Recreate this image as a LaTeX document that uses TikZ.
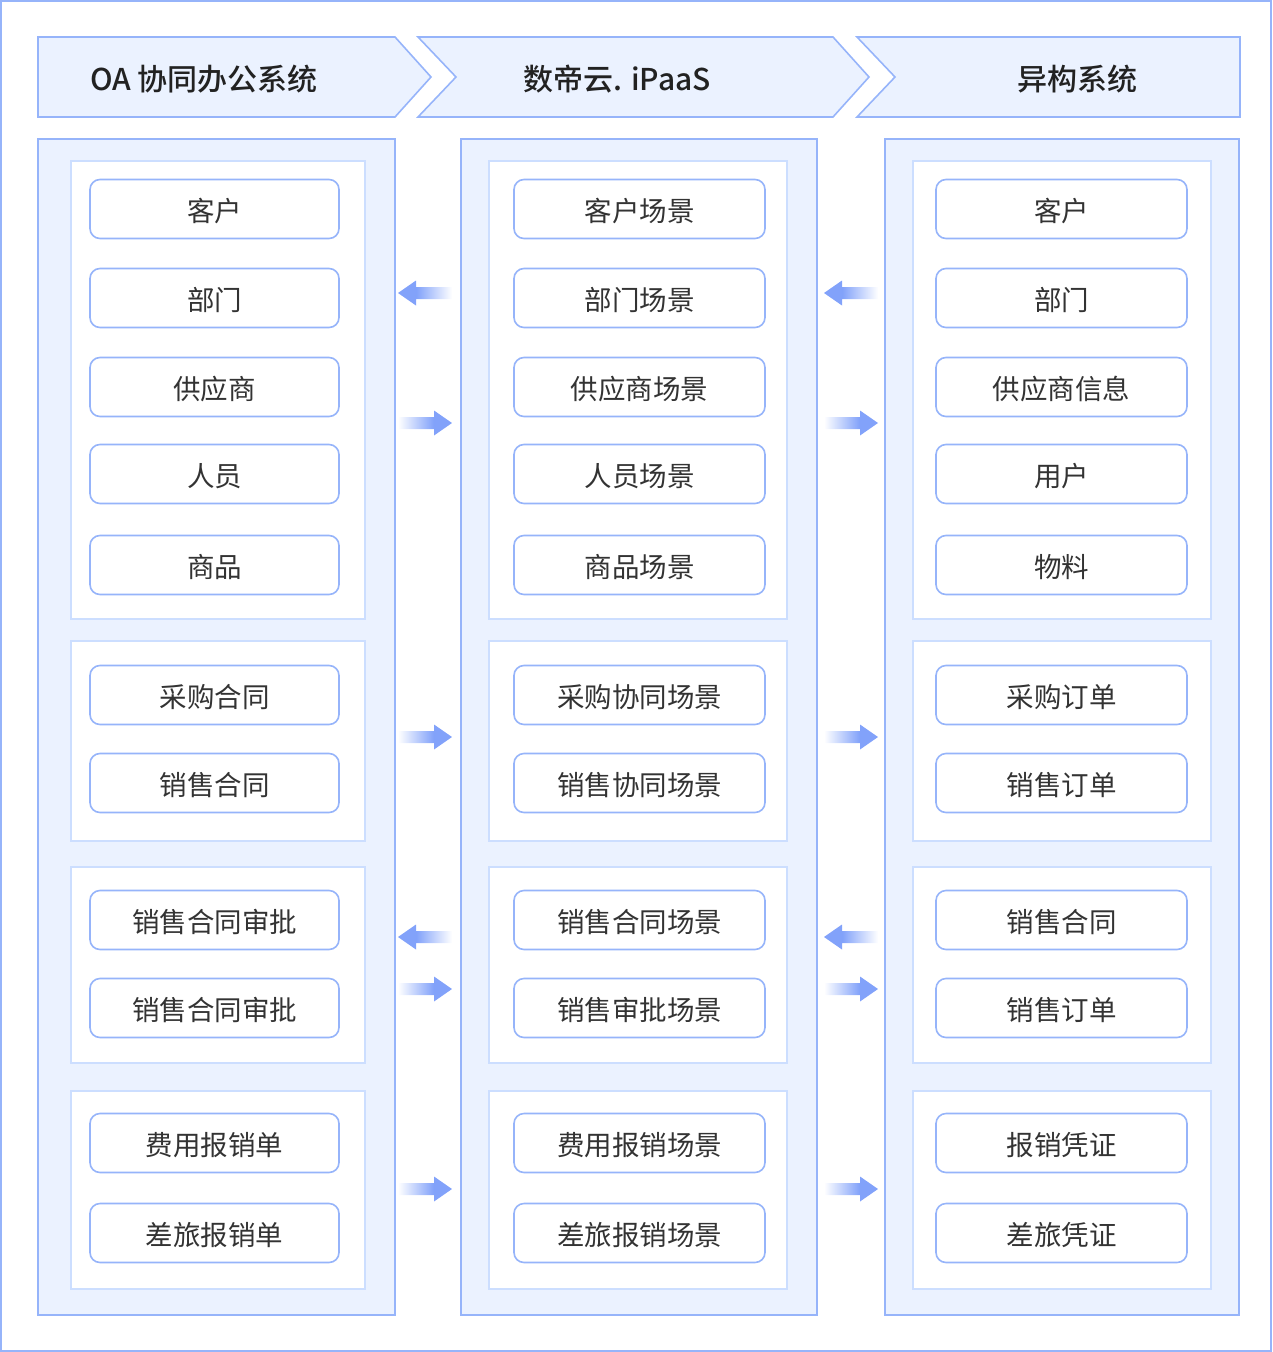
\documentclass[tikz,border=0pt]{standalone}
\usepackage{fontspec}
\setmainfont{Noto Sans CJK SC}
\newfontfamily\hdrfont{Noto Sans CJK SC Medium}
\definecolor{bc}{HTML}{96B4FA}
\definecolor{fillc}{HTML}{EBF2FF}
\definecolor{grpc}{HTML}{CCDEFF}
\definecolor{arrc}{HTML}{82A2FA}
\definecolor{txtc}{HTML}{333333}
\definecolor{hdrtxt}{HTML}{222222}
\pgfdeclarehorizontalshading{rfade}{100bp}{color(0bp)=(white); color(25bp)=(white); color(58bp)=(arrc); color(75bp)=(arrc); color(100bp)=(arrc)}
\begin{document}
\begin{tikzpicture}[x=1pt,y=-1pt,
  hdr/.style={draw=bc, fill=fillc, line width=1.6pt},
  colbox/.style={draw=bc, fill=fillc, line width=1.6pt},
  grp/.style={draw=grpc, fill=white, line width=1.6pt},
  item/.style={draw=bc, fill=white, line width=1.6pt, rounded corners=10pt, minimum width=249pt, minimum height=59pt, inner sep=0pt, text height=28pt, text depth=4pt, text=txtc, font=\fontsize{27.5}{31}\selectfont},
  hdrtext/.style={text=hdrtxt, font=\hdrfont\fontsize{30}{34}\selectfont},
  arrR/.style={shading=rfade, draw=none},
  arrL/.style={shading=rfade, shading angle=180, draw=none}
]
\useasboundingbox (0,0) rectangle (1272,1352);
\draw[draw=bc, line width=2pt] (1,1) rectangle (1271,1351);

% headers
\draw[hdr] (38,37) -- (395,37) -- (431,77) -- (395,117) -- (38,117) -- cycle;
\draw[hdr] (418,37) -- (833,37) -- (869,77) -- (833,117) -- (418,117) -- (456,77) -- cycle;
\draw[hdr] (857,37) -- (1240,37) -- (1240,117) -- (857,117) -- (895,77) -- cycle;
\node[hdrtext] (h1) at (204,79) {OA 协同办公系统};
\node[hdrtext] (h2) at (617,79) {数帝云. iPaaS};
\node[hdrtext] (h3) at (1077,79) {异构系统};

% columns
\draw[colbox] (38,139) rectangle (395,1315);
\draw[colbox] (461,139) rectangle (817,1315);
\draw[colbox] (885,139) rectangle (1239,1315);

% groups
\foreach \xa/\xb in {71/365, 489/787, 913/1211}{
  \draw[grp] (\xa,161) rectangle (\xb,619);
  \draw[grp] (\xa,641) rectangle (\xb,841);
  \draw[grp] (\xa,867) rectangle (\xb,1063);
  \draw[grp] (\xa,1091) rectangle (\xb,1289);
}

% items column 1
\node[item] (a1) at (214.5,209) {客户};
\node[item] (a2) at (214.5,298) {部门};
\node[item] (a3) at (214.5,387) {供应商};
\node[item] (a4) at (214.5,474) {人员};
\node[item] (a5) at (214.5,565) {商品};
\node[item] (a6) at (214.5,695) {采购合同};
\node[item] (a7) at (214.5,783) {销售合同};
\node[item] (a8) at (214.5,920) {销售合同审批};
\node[item] (a9) at (214.5,1008) {销售合同审批};
\node[item] (a10) at (214.5,1143) {费用报销单};
\node[item] (a11) at (214.5,1233) {差旅报销单};

% items column 2
\node[item, minimum width=251pt] (b1) at (639.5,209) {客户场景};
\node[item, minimum width=251pt] (b2) at (639.5,298) {部门场景};
\node[item, minimum width=251pt] (b3) at (639.5,387) {供应商场景};
\node[item, minimum width=251pt] (b4) at (639.5,474) {人员场景};
\node[item, minimum width=251pt] (b5) at (639.5,565) {商品场景};
\node[item, minimum width=251pt] (b6) at (639.5,695) {采购协同场景};
\node[item, minimum width=251pt] (b7) at (639.5,783) {销售协同场景};
\node[item, minimum width=251pt] (b8) at (639.5,920) {销售合同场景};
\node[item, minimum width=251pt] (b9) at (639.5,1008) {销售审批场景};
\node[item, minimum width=251pt] (b10) at (639.5,1143) {费用报销场景};
\node[item, minimum width=251pt] (b11) at (639.5,1233) {差旅报销场景};

% items column 3
\node[item, minimum width=251pt] (c1) at (1061.5,209) {客户};
\node[item, minimum width=251pt] (c2) at (1061.5,298) {部门};
\node[item, minimum width=251pt] (c3) at (1061.5,387) {供应商信息};
\node[item, minimum width=251pt] (c4) at (1061.5,474) {用户};
\node[item, minimum width=251pt] (c5) at (1061.5,565) {物料};
\node[item, minimum width=251pt] (c6) at (1061.5,695) {采购订单};
\node[item, minimum width=251pt] (c7) at (1061.5,783) {销售订单};
\node[item, minimum width=251pt] (c8) at (1061.5,920) {销售合同};
\node[item, minimum width=251pt] (c9) at (1061.5,1008) {销售订单};
\node[item, minimum width=251pt] (c10) at (1061.5,1143) {报销凭证};
\node[item, minimum width=251pt] (c11) at (1061.5,1233) {差旅凭证};

% arrows
\foreach \x in {398, 824}{
  \foreach \y in {423, 737, 989, 1189}{
    \path[arrR] (\x,\y-6) -- (\x+36,\y-6) -- (\x+36,\y-12.5) -- (\x+54,\y) -- (\x+36,\y+12.5) -- (\x+36,\y+6) -- (\x,\y+6) -- cycle;
  }
  \foreach \y in {293, 937}{
    \path[arrL] (\x+54,\y-6) -- (\x+18,\y-6) -- (\x+18,\y-12.5) -- (\x,\y) -- (\x+18,\y+12.5) -- (\x+18,\y+6) -- (\x+54,\y+6) -- cycle;
  }
}
\end{tikzpicture}
\end{document}
